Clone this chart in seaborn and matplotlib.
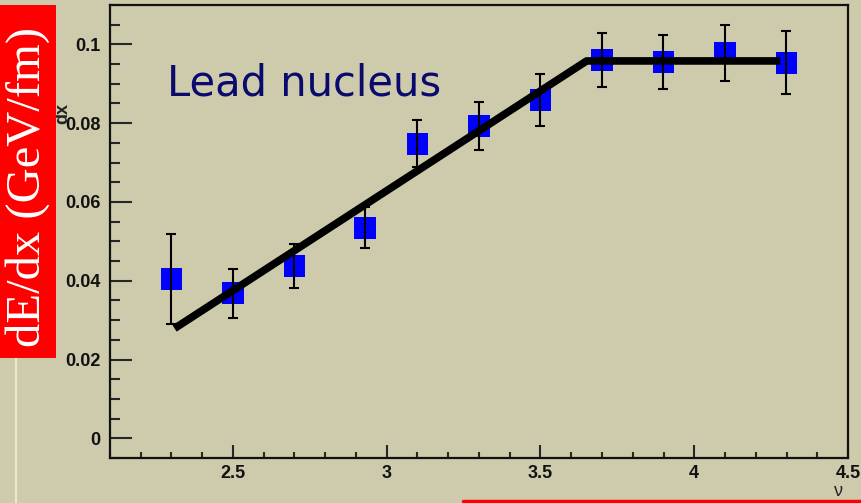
import numpy as np
import pandas as pd
import matplotlib
matplotlib.use("Agg")
import matplotlib.pyplot as plt
from matplotlib.ticker import MultipleLocator
from matplotlib.patches import Rectangle
from matplotlib.lines import Line2D
import seaborn as sns

# measured points (nu, dE/dx, error)
nu = [2.3, 2.5, 2.7, 2.93, 3.1, 3.3, 3.5, 3.7, 3.9, 4.1, 4.3]
dedx = [0.0404, 0.0368, 0.0437, 0.0535, 0.0748, 0.0793, 0.0859, 0.0960, 0.0955, 0.0978, 0.0953]
dedx_err = [0.0114, 0.0062, 0.0055, 0.0053, 0.0059, 0.0062, 0.0065, 0.0068, 0.0069, 0.0072, 0.0080]

# fitted broken line
fit_nu = [2.31, 3.65, 4.28]
fit_dedx = [0.0279, 0.0958, 0.0958]

x_ticks = [2.5, 3, 3.5, 4, 4.5]
y_ticks = [0, 0.02, 0.04, 0.06, 0.08, 0.1]

bg = "#cdcbab"

sns.set_theme(style="ticks")
plt.rcParams["font.family"] = ["Liberation Sans", "DejaVu Sans"]

df = pd.DataFrame({"nu": nu, "dedx": dedx, "err": dedx_err})
fit_df = pd.DataFrame({"nu": fit_nu, "dedx": fit_dedx})

fig = plt.figure(figsize=(8.61, 5.03), dpi=100, facecolor=bg)
ax = fig.add_axes([110 / 861, 45 / 503, 738 / 861, 453 / 503])
ax.set_facecolor(bg)

sns.scatterplot(data=df, x="nu", y="dedx", marker="s", s=250, color="#0000ff",
                edgecolor="none", linewidth=0, ax=ax, zorder=2, legend=False)
ax.errorbar(df["nu"], df["dedx"], yerr=df["err"], fmt="none", ecolor="black",
            elinewidth=1.5, capsize=3.5, capthick=1.5, zorder=3)
sns.lineplot(data=fit_df, x="nu", y="dedx", color="black", linewidth=5.5,
             ax=ax, zorder=4, solid_capstyle="butt")

ax.set_xlim(2.1, 4.5)
ax.set_ylim(-0.005, 0.11)
ax.set_xticks(x_ticks)
ax.set_xticklabels(["2.5", "3", "3.5", "4", "4.5"])
ax.set_yticks(y_ticks)
ax.set_yticklabels(["0", "0.02", "0.04", "0.06", "0.08", "0.1"])
ax.xaxis.set_minor_locator(MultipleLocator(0.1))
ax.yaxis.set_minor_locator(MultipleLocator(0.005))
ax.set_xlabel("")
ax.set_ylabel("")

for side in ["left", "bottom", "right", "top"]:
    ax.spines[side].set_visible(True)
    ax.spines[side].set_linewidth(1.6)
    ax.spines[side].set_color("#111111")

ax.tick_params(axis="y", which="major", direction="in", length=15.5, width=1.5, pad=7)
ax.tick_params(axis="y", which="minor", direction="in", length=7.5, width=1.5)
ax.tick_params(axis="x", which="major", direction="in", length=9.5, width=1.5, pad=5)
ax.tick_params(axis="x", which="minor", direction="in", length=4.5, width=1.5)
for lab in ax.get_xticklabels() + ax.get_yticklabels():
    lab.set_fontsize(13)
    lab.set_fontweight("bold")
    lab.set_color("#111111")

ax.text(2.285, 0.087, "Lead nucleus", fontsize=30, color="#0a0a6e",
        family="DejaVu Sans", ha="left", va="baseline")

# leftover of the original axis title, mostly covered by the red box
fig.text(63 / 861, 1 - 113 / 503, "dx", rotation=90, fontsize=13, fontweight="bold",
         color="#222222", ha="center", va="center")

# red label box with the physical axis title
fig.patches.append(Rectangle((0, 145 / 503), 56 / 861, 353 / 503, transform=fig.transFigure,
                             facecolor="#ff0000", edgecolor="none", zorder=5))
fig.text(28 / 861, 1 - 187 / 503, "dE/dx (GeV/fm)", rotation=90, fontsize=35,
         color="white", family=["Liberation Serif", "DejaVu Serif"],
         ha="center", va="center", zorder=6)

fig.text(838 / 861, 1 - 492 / 503, "ν", fontsize=13, color="#222222",
         ha="center", va="center")

# slide decorations
fig.lines.append(Line2D([16 / 861, 16 / 861], [0, 145 / 503], transform=fig.transFigure,
                        color="#ece6cc", linewidth=1.6))
fig.lines.append(Line2D([463 / 861, 1], [2 / 503, 2 / 503], transform=fig.transFigure,
                        color="#ff0000", linewidth=2.5))

fig.savefig("out.png", dpi=100, facecolor=bg)
